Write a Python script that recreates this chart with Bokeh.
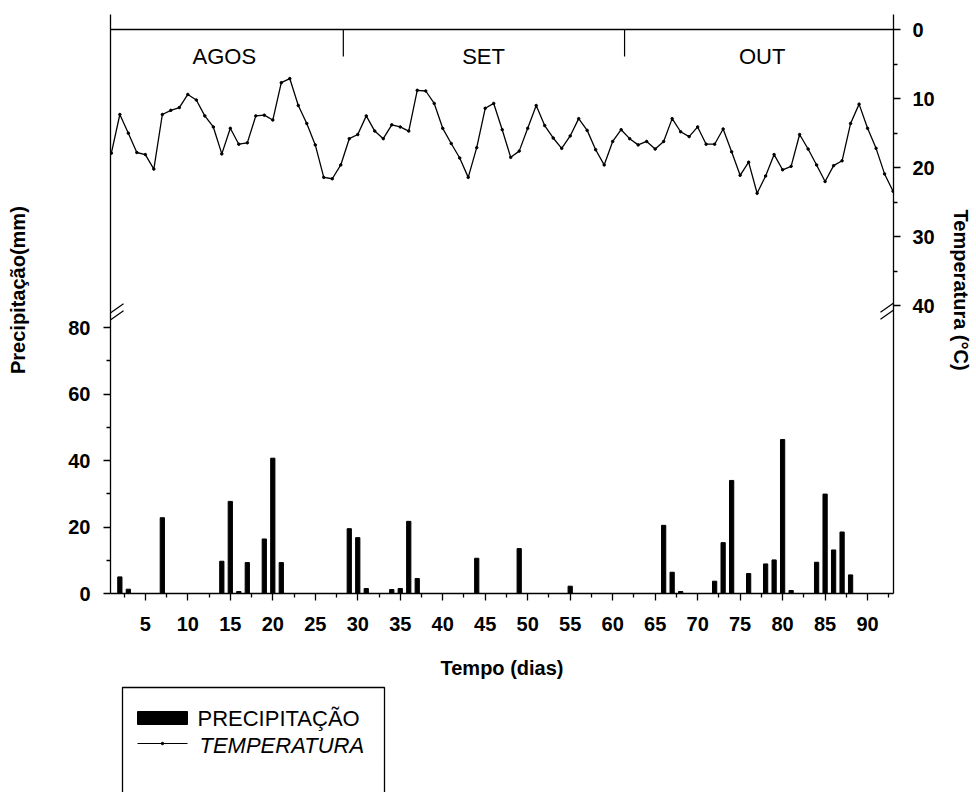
from bokeh.plotting import figure
from bokeh.models import Range1d, LinearAxis, FixedTicker
from bokeh.core.properties import value
from bokeh.layouts import column
from bokeh.embed import file_html
from bokeh.resources import INLINE

# ---------------- data ----------------
temp_days = list(range(1, 94))
temperature = [17.9, 12.3, 15.0, 17.8, 18.1, 20.2, 12.3, 11.7, 11.3, 9.4,
               10.2, 12.5, 14.1, 18.0, 14.3, 16.6, 16.4, 12.5, 12.4, 13.1,
               7.7, 7.1, 11.0, 13.6, 16.7, 21.4, 21.6, 19.6, 15.8, 15.2,
               12.5, 14.7, 15.8, 13.8, 14.1, 14.7, 8.8, 8.9, 10.7, 14.3,
               16.5, 18.6, 21.4, 17.1, 11.4, 10.7, 14.5, 18.5, 17.6, 14.3,
               11.0, 13.9, 15.7, 17.2, 15.4, 12.9, 14.6, 17.4, 19.6, 16.2,
               14.5, 15.8, 16.7, 16.2, 17.3, 16.2, 12.9, 14.8, 15.5, 14.1,
               16.6, 16.6, 14.4, 17.7, 21.1, 19.2, 23.7, 21.2, 18.1, 20.3,
               19.8, 15.2, 17.3, 19.6, 22.0, 19.7, 19.0, 13.6, 10.8, 14.3,
               17.2, 20.9, 23.4]

precip_days = [2, 3, 7, 14, 15, 16, 17, 19, 20, 21,
               29, 30, 31, 34, 35, 36, 37, 44, 49, 55,
               66, 67, 68, 72, 73, 74, 76, 78, 79, 80,
               81, 84, 85, 86, 87, 88]
precipitation = [5.0, 1.3, 22.8, 9.7, 27.7, 0.6, 9.3, 16.4, 40.7, 9.3,
                 19.5, 16.8, 1.5, 1.2, 1.5, 21.7, 4.5, 10.6, 13.5, 2.2,
                 20.5, 6.4, 0.6, 3.7, 15.3, 34.0, 6.0, 8.9, 10.1, 46.3,
                 0.9, 9.4, 29.9, 13.1, 18.5, 5.6]

months = ["AGOS", "SET", "OUT"]
month_label_day = [14.3, 44.8, 77.6]
month_divider_day = [28.3, 61.4]

x_ticks = list(range(5, 95, 5))
x_minor = [t - 2.5 for t in range(5, 100, 5)]
p_ticks = [0, 20, 40, 60, 80]
p_minor = [10, 30, 50, 70]
t_ticks = [0, 10, 20, 30, 40]
t_minor = [5, 15, 25, 35]

# ---------------- layout constants (page pixels) ----------------
W, H = 976, 682
AX_L, AX_R, T0_Y, AX_B = 110, 893, 29, 593   # axis lines and the 0 degC line
FRAME_T = 14                                  # axes stick out a little above the 0 degC line
PX_PER_MM = 3.325
PX_PER_DEG = 6.91
X0, X1 = 0.9, 93.05
PX_PER_DAY = (AX_R - AX_L) / (X1 - X0)
FONT = "Liberation Sans"
NB = "\u00a0" * 5     # shifts the centred vertical titles a little upward


def dpx(px):           # pixels -> days
    return px / PX_PER_DAY


def mm_at(py):         # page y -> precipitation units
    return (AX_B - py) / PX_PER_MM


def deg_at(py):        # page y -> temperature units
    return (py - T0_Y) / PX_PER_DEG


P_TOP = mm_at(FRAME_T)
T_TOP, T_BOT = deg_at(FRAME_T), deg_at(AX_B)

p = figure(width=W, height=H, x_range=Range1d(X0, X1), y_range=Range1d(0, P_TOP),
           output_backend="svg", toolbar_location=None,
           min_border_left=AX_L, min_border_right=W - AX_R,
           min_border_top=FRAME_T, min_border_bottom=H - AX_B)
p.extra_y_ranges = {"temp": Range1d(T_BOT, T_TOP)}
p.xgrid.grid_line_color = None
p.ygrid.grid_line_color = None
p.background_fill_color = "white"
p.border_fill_color = "white"
p.outline_line_color = None

xax = p.xaxis[0]
xax.ticker = FixedTicker(ticks=x_ticks, minor_ticks=x_minor)
xax.axis_label = "Tempo (dias)"
yax = p.yaxis[0]
yax.ticker = FixedTicker(ticks=p_ticks, minor_ticks=p_minor)
yax.bounds = (0, P_TOP)
yax.axis_label = NB + "Precipitação(mm)"
rax = LinearAxis(y_range_name="temp", ticker=FixedTicker(ticks=t_ticks, minor_ticks=t_minor),
                 bounds=(T_TOP, T_BOT), axis_label="Temperatura (°C)" + NB)
p.add_layout(rax, "right")

for ax in (xax, yax, rax):
    ax.axis_line_color = "black"
    ax.axis_line_width = 1.3
    ax.major_tick_line_color = "black"
    ax.major_tick_line_width = 1.3
    ax.minor_tick_line_color = "black"
    ax.minor_tick_line_width = 1.3
    ax.major_tick_in = 0
    ax.major_tick_out = 7
    ax.minor_tick_in = 0
    ax.minor_tick_out = 4
    ax.major_label_text_font = FONT
    ax.major_label_text_font_style = "bold"
    ax.major_label_text_font_size = "20px"
    ax.major_label_text_color = "black"
    ax.axis_label_text_font = FONT
    ax.axis_label_text_font_style = "bold"
    ax.axis_label_text_font_size = "20px"
    ax.axis_label_text_color = "black"

xax.major_label_standoff = 16
xax.axis_label_standoff = 23
yax.major_label_standoff = 13
yax.axis_label_standoff = 36
rax.major_label_standoff = 12
rax.axis_label_standoff = 12

# 0 degC line closing the top of the frame
p.segment(x0=[X0], y0=[0], x1=[X1], y1=[0], y_range_name="temp",
          line_color="black", line_width=1.3)

# precipitation bars
p.vbar(x=precip_days, top=precipitation, bottom=0, width=0.5,
       fill_color="black", line_color="black")

# temperature line
p.line(temp_days, temperature, y_range_name="temp", line_color="black", line_width=1.3)
p.scatter(temp_days, temperature, y_range_name="temp", size=2.5,
          fill_color="black", line_color="black")

# month dividers and labels
p.segment(x0=month_divider_day, y0=[0] * len(month_divider_day),
          x1=month_divider_day, y1=[3.9] * len(month_divider_day),
          y_range_name="temp", line_color="black", line_width=1.2)
p.text(x=month_label_day, y=[3.9] * len(months), text=months, y_range_name="temp",
       text_align="center", text_baseline="middle",
       text_font=value(FONT), text_font_size="22px", text_color="black")

# axis breaks: pairs of parallel slashes at the axes
brk_x = [X0 + dpx(3), X1 - dpx(3)]
brk_y = [84.0, mm_at(T0_Y + 40.4 * PX_PER_DEG)]
sx, sy, gap = dpx(10), 7 / PX_PER_MM, 3.5 / PX_PER_MM
bx0, by0, bx1, by1 = [], [], [], []
for xc, yc in zip(brk_x, brk_y):
    for off in (-gap, gap):
        bx0.append(xc - sx)
        by0.append(yc + off - sy)
        bx1.append(xc + sx)
        by1.append(yc + off + sy)
p.segment(x0=bx0, y0=by0, x1=bx1, y1=by1, line_color="black", line_width=1.2)

# ---------------- legend (second figure) ----------------
LH = 792 - H
lg = figure(width=W, height=LH, x_range=Range1d(AX_L, AX_R), y_range=Range1d(LH, 0),
            output_backend="svg", toolbar_location=None,
            min_border_left=AX_L, min_border_right=W - AX_R,
            min_border_top=0, min_border_bottom=0,
            x_axis_location=None, y_axis_location=None)
lg.outline_line_color = None
lg.xgrid.grid_line_color = None
lg.ygrid.grid_line_color = None
lg.background_fill_color = "white"
lg.border_fill_color = "white"
# legend coordinates: x = page x, y = page y - H
lg.quad(left=[122], right=[384], top=[687 - H], bottom=[LH + 20],
        fill_color=None, line_color="black", line_width=1.3)
lg.quad(left=[137], right=[187], top=[711 - H], bottom=[724 - H],
        fill_color="black", line_color="black")
lg.line([137, 187], [743 - H, 743 - H], line_color="black", line_width=1.2)
lg.scatter([162], [743 - H], size=2.5, fill_color="black", line_color="black")
lg.text(x=[197], y=[718 - H], text=["PRECIPITAÇÃO"], text_baseline="middle",
        text_font=value(FONT), text_font_size="22px", text_color="black")
lg.text(x=[199], y=[744.5 - H], text=["TEMPERATURA"], text_baseline="middle",
        text_font=value(FONT), text_font_size="22px", text_font_style="italic",
        text_color="black")

layout = column(p, lg)
open("out.html", "w").write(file_html(layout, INLINE))
